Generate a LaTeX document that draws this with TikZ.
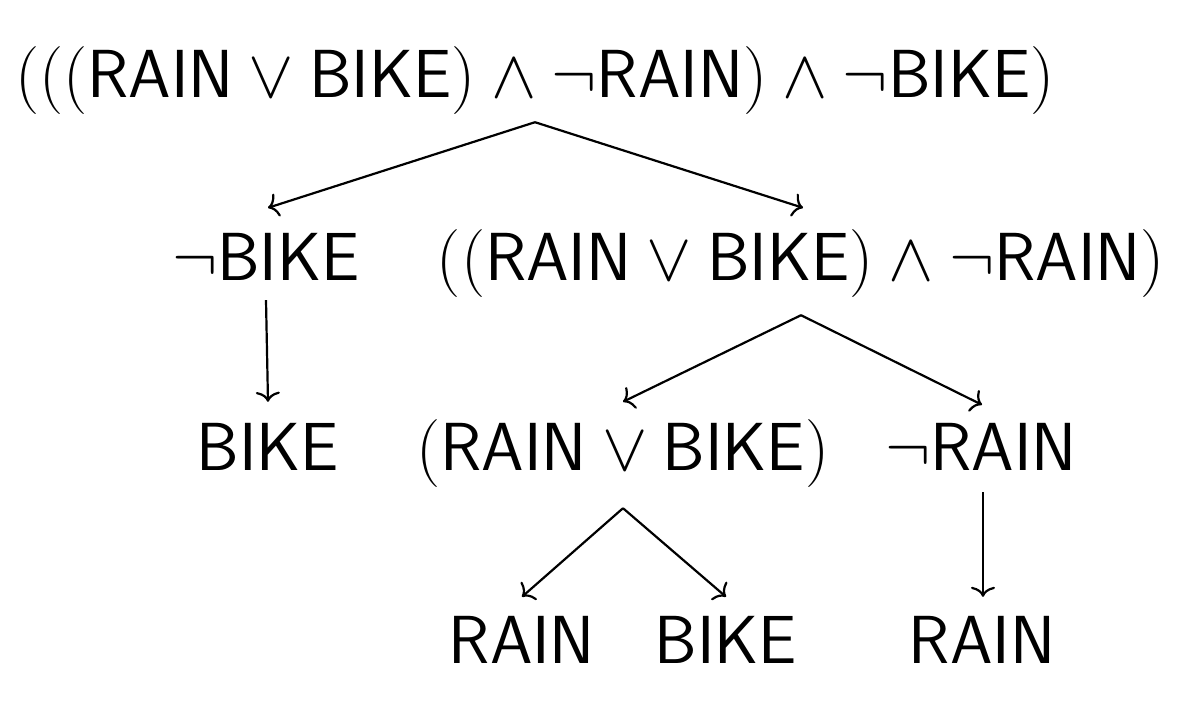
\documentclass[tikz,border=0pt]{standalone}
\usepackage{fix-cm}
\usetikzlibrary{arrows.meta}
\begin{document}
\begin{tikzpicture}[x=1pt,y=-1pt,
  lbl/.style={font=\fontsize{68}{80}\selectfont\sffamily, inner sep=0pt, anchor=base, text height=51pt, text depth=17pt},
  arr/.style={-{To[length=10pt,width=24pt]}, line width=2.2pt}]
\useasboundingbox[fill=white] (0,0) rectangle (1188,717);
\node[lbl] (top) at (535,97) {$(((\mathsf{RAIN}\lor\mathsf{BIKE})\land\neg\mathsf{RAIN})\land\neg\mathsf{BIKE})$};
\node[lbl] (nb) at (266,280) {$\neg\mathsf{BIKE}$};
\node[lbl] (mid) at (801,280) {$((\mathsf{RAIN}\lor\mathsf{BIKE})\land\neg\mathsf{RAIN})$};
\node[lbl] (b1) at (268,470) {$\mathsf{BIKE}$};
\node[lbl] (or) at (623,470) {$(\mathsf{RAIN}\lor\mathsf{BIKE})$};
\node[lbl] (nr) at (981,470) {$\neg\mathsf{RAIN}$};
\node[lbl] (r1) at (522,663) {$\mathsf{RAIN}$};
\node[lbl] (b2) at (726,663) {$\mathsf{BIKE}$};
\node[lbl] (r2) at (982,663) {$\mathsf{RAIN}$};
\draw[arr] ([yshift=-8pt]top.south) -- ([xshift=2pt,yshift=21pt]nb.north);
\draw[arr] ([yshift=-8pt]top.south) -- ([xshift=2pt,yshift=21pt]mid.north);
\draw[arr] ([yshift=-3pt]nb.south) -- ([yshift=17pt]b1.north);
\draw[arr] ([yshift=-18pt]mid.south) -- ([yshift=17pt]or.north);
\draw[arr] ([yshift=-18pt]mid.south) -- ([xshift=1pt,yshift=14pt]nr.north);
\draw[arr] ([yshift=-21pt]or.south) -- ([yshift=15pt]r1.north);
\draw[arr] ([yshift=-21pt]or.south) -- ([yshift=15pt]b2.north);
\draw[arr] ([xshift=2pt,yshift=-5pt]nr.south) -- ([xshift=1pt,yshift=15pt]r2.north);
\end{tikzpicture}
\end{document}
